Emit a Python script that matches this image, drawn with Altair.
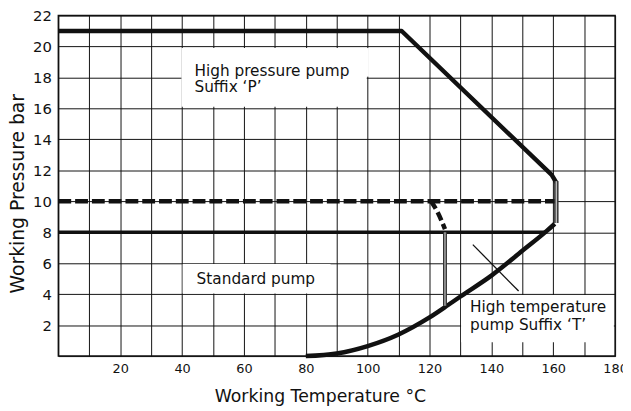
import altair as alt
import pandas as pd

# ---- data ----
# High pressure pump boundary (Suffix 'P')
hp_temp = [0, 111, 159.5, 161]
hp_press = [21, 21, 11.7, 11.2]
# right-hand hollow edge at ~161 °C
edge_temp = [161, 161]
edge_press = [11.3, 8.6]
# standard pump limit
std_temp = [0, 158]
std_press = [8, 8]
# dashed limit at 10 bar
dash_temp = [0, 161]
dash_press = [10, 10]
dash_branch_temp = [120.5, 122.6, 125]
dash_branch_press = [10, 9.3, 8.2]
# high temperature curve
ht_temp = [80, 90, 100, 110, 120, 126, 130, 140, 150, 158, 160.5]
ht_press = [0, 0.17, 0.65, 1.4, 2.5, 3.3, 3.85, 5.2, 6.8, 8.1, 8.55]
# hollow vertical at ~125 °C
vert_temp = [125, 125]
vert_press = [8, 3.25]
# pointer line of the 'T' label
cross_temp = [134, 148.8]
cross_press = [7.2, 4.2]

# label texts and anchor positions
labels = ["High pressure pump", "Suffix \u2018P\u2019", "Standard pump",
          "High temperature", "pump Suffix \u2018T\u2019"]
label_temp = [44, 44, 44.7, 133.1, 133.1]
label_press = [18.1, 17.05, 4.65, 2.85, 1.68]

# white boxes behind labels
box_t1 = [39.8, 99.5, 40.2, 130.2]
box_t2 = [99.7, 100.4, 88.0, 179.6]
box_p1 = [16.1, 18.05, 4.05, 0.9]
box_p2 = [19.9, 19.9, 5.95, 3.95]


def line_df(xs, ys):
    return pd.DataFrame({"temp": xs, "press": ys, "order": list(range(len(xs)))})


FONT = "DejaVu Sans"
INK = "#111111"

x_enc = alt.X(
    "temp:Q",
    scale=alt.Scale(domain=[0, 180], nice=False, zero=False),
    axis=alt.Axis(
        title="Working Temperature \u00b0C",
        values=list(range(0, 181, 10)),
        labelExpr="datum.value % 20 == 0 && datum.value > 0 ? datum.label : ''",
        grid=True, gridColor=INK, gridWidth=1, gridOpacity=1,
        ticks=False, domain=False,
        labelFont=FONT, labelFontSize=13, labelColor=INK, labelPadding=7,
        labelFlush=False, labelOverlap=False,
        titleFont=FONT, titleFontSize=17.5, titleFontWeight="normal", titleColor=INK,
        titleX=265, titleY=46, titleBaseline="alphabetic", titleAlign="center",
    ),
)
y_enc = alt.Y(
    "press:Q",
    scale=alt.Scale(domain=[0, 22], nice=False, zero=False),
    axis=alt.Axis(
        title="Working Pressure bar",
        values=list(range(0, 23, 2)),
        labelExpr="datum.value > 0 ? datum.label : ''",
        grid=True, gridColor=INK, gridWidth=1, gridOpacity=1,
        ticks=False, domain=False,
        labelFont=FONT, labelFontSize=15, labelColor=INK, labelPadding=7,
        labelFlush=False, labelOverlap=False,
        titleFont=FONT, titleFontSize=19, titleFontWeight="normal", titleColor=INK,
        titleX=-35, titleY=180, titleBaseline="alphabetic", titleAlign="center",
    ),
)

boxes = pd.DataFrame({"temp": box_t1, "temp2": box_t2, "press": box_p1, "press2": box_p2})
box_layer = alt.Chart(boxes).mark_rect(color="white", opacity=1).encode(
    x=x_enc, x2="temp2:Q", y=y_enc, y2="press2:Q"
)


def line_layer(xs, ys, width, color=INK, dash=None, interp="linear", cap="butt"):
    kw = dict(color=color, strokeWidth=width, interpolate=interp, strokeCap=cap, strokeJoin="round")
    if dash:
        kw["strokeDash"] = dash
    return alt.Chart(line_df(xs, ys)).mark_line(**kw).encode(
        x=x_enc, y=y_enc, order="order:Q"
    )


layers = [
    box_layer,
    line_layer(std_temp, std_press, 3.5),
    line_layer(dash_temp, dash_press, 4.5, dash=[13, 4]),
    line_layer(dash_branch_temp, dash_branch_press, 4.5, dash=[9, 4], interp="monotone"),
    line_layer(hp_temp, hp_press, 4.5),
    line_layer(ht_temp, ht_press, 4.5, interp="monotone"),
    line_layer(edge_temp, edge_press, 4.5, color="#333333"),
    line_layer(edge_temp, edge_press, 1.5, color="#bbbbbb"),
    line_layer(vert_temp, vert_press, 4, color="#333333"),
    line_layer(vert_temp, vert_press, 1.3, color="#bbbbbb"),
    line_layer(cross_temp, cross_press, 1.3),
]

texts = pd.DataFrame({"temp": label_temp, "press": label_press, "label": labels})
text_layer = alt.Chart(texts).mark_text(
    align="left", baseline="alphabetic", font=FONT, fontSize=15.5, color=INK
).encode(x=x_enc, y=y_enc, text="label:N")

chart = alt.layer(*layers, text_layer).properties(
    width=564,
    height=345,
    autosize=alt.AutoSizeParams(type="none"),
    padding={"left": 51, "top": 5, "right": 8, "bottom": 53},
    background="white",
).configure_view(stroke=INK, strokeWidth=1.5)

chart.save("out.html", embed_options={"renderer": "svg", "actions": False})
